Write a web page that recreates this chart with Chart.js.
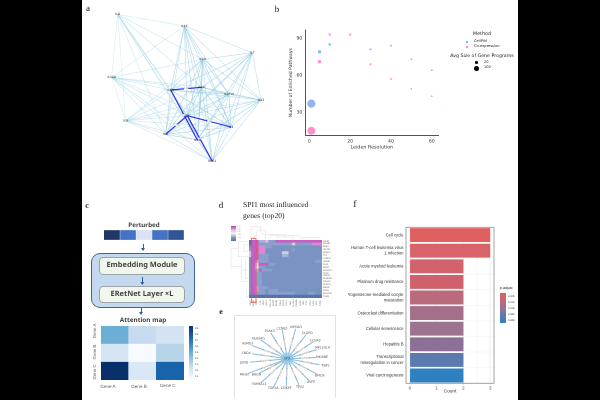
<!DOCTYPE html>
<html>
<head>
<meta charset="utf-8">
<script src="https://cdn.jsdelivr.net/npm/chart.js@4"></script>
<style>
  html, body { margin: 0; padding: 0; width: 600px; height: 400px; overflow: hidden; background: #000; }
  #page { position: absolute; left: 82px; top: 0; width: 436px; height: 400px; background: #fff; }
  #root { position: absolute; left: 0; top: 0; width: 600px; height: 400px; filter: blur(0.3px); text-rendering: geometricPrecision; }
  #root canvas { position: absolute; }
  .t { position: absolute; white-space: nowrap; line-height: 1; }
  .b { position: absolute; box-sizing: border-box; }
</style>
</head>
<body>
<div id="page"></div>
<div id="root"></div>
<script>
// ################ a: gene network (layout units) ###################
const netNames = ['IL8', 'IL15', 'IL7', 'IL19', 'IL12A', 'IL6R', 'IL1A', 'IL1F10', 'IL13', 'IL5', 'IL2', 'IL4', 'IL6', 'IL10', 'ENS1'];
const netX = [113, 313, 517, 368, 95, 272, 365, 447, 543, 137, 322, 453, 257, 352, 397];
const netY = [43, 78, 158, 178, 232, 270, 262, 283, 300, 362, 347, 381, 403, 420, 484];
const netStrength = [0.4, 0.7, 0.7, 0.9, 0.4, 0.9, 1, 0.9, 0.7, 0.4, 0.9, 0.9, 0.8, 1, 0.7];
const netMissing = ['0-2', '0-8', '0-7', '0-11', '2-4', '2-9', '1-9', '4-8'];
const netHeavy = [[5, 6], [5, 13], [10, 11], [10, 12], [10, 14]];

// ################ b: enriched pathways ###################
const cellPimRes = [1, 5, 10, 30, 40, 50, 60];
const cellPimPathways = [37, 79, 85, 81, 84, 73, 64];
const cellPimSize = [185, 30, 18, 12, 10, 8, 9];
const coexpRes = [1, 5, 10, 20, 30, 40, 50, 60];
const coexpPathways = [15, 71, 93, 93, 69, 57, 49, 43];
const coexpSize = [170, 32, 16, 14, 10, 10, 8, 8];
const resTicks = [0, 20, 40, 60];
const pathwayTicks = [30, 60, 90];

// ################ c: perturbed row and attention map ###################
const perturbedColors = ['#1F3864', '#4472C4', '#D9E3F3', '#4472C4', '#2F5597'];
const geneNames = ['Gene A', 'Gene B', 'Gene C'];
const attentionColors = [
  ['#6BAED6', '#C6DBEF', '#D3E3F3'],
  ['#D6E5F4', '#F7FBFF', '#B8D4E8'],
  ['#08306B', '#DAE8F5', '#1764AB']
];
const attentionTicks = ['0.9', '0.8', '0.7', '0.6', '0.5', '0.4', '0.3', '0.2', '0.1'];

// ################ d: SPI1 heatmap, one digit per cell ###################
const spiRows = [
  '0883362288888888888888',
  '0882222222222422222777',
  '1887722111111111111111',
  '2887711111111211111111',
  '4887711111441111111111',
  '4882221111331111111111',
  '1882221111111111111111',
  '1872221111111111111122',
  '1848882211111111111111',
  '1852211111111111111111',
  '1838222111111111111111',
  '1822111111111111111111',
  '1822111111111111111111',
  '1822111111111111111111',
  '1822111111111111111111',
  '1822111111111111111111',
  '1872221111111111111111',
  '1872212221111111111111',
  '1822212222222211112211',
  '0000000000000000000000'
];
const spiPalette = ['#5475AB', '#7A93C3', '#8AA0CC', '#A3B3D6', '#D0D0DC', '#E8E0E8', '#E0B5DA', '#D88BCF', '#C85FC0', '#B03CB0'];
const spiGenes = ['KIF2C', 'CCNB1', 'BUB1', 'CDC20', 'CENPA', 'TTK', 'AURKB', 'HMMR', 'PLK1', 'MKI67', 'NUSAP1', 'TPX2', 'TOP2A', 'FAM83D', 'CCNA2', 'CLSPN', 'BIRC5', 'CKS2', 'DLGAP5', 'TYMS'];
const spiColGenes = ['SPI1', 'GATA1', 'MYC', 'JUN', 'TP53', 'E2F1', 'FOXM1', 'STAT3', 'NFKB1', 'RELA', 'EGR1', 'KLF1', 'TAL1', 'RUNX1', 'CEBPA', 'IRF8', 'MAX', 'YY1', 'ETS1', 'ELK1', 'SP1', 'CTCF'];
const dendroTop = [
  [[63, 42], [63, 5], [92, 5], [92, 20]],
  [[82, 20], [82, 15], [107, 15], [107, 42]],
  [[72, 42], [72, 32], [80, 32], [80, 20]],
  [[98, 25], [98, 28], [165, 28], [165, 38]],
  [[120, 42], [120, 32], [210, 32], [210, 38]],
  [[140, 42], [140, 36], [190, 36], [190, 42]],
  [[215, 42], [215, 38], [270, 38], [270, 42]]
];
const dendroLeft = [
  [[55, 50], [25, 50], [25, 95], [55, 95]],
  [[25, 70], [3, 70], [3, 125], [34, 125]],
  [[34, 100], [34, 170], [55, 170]],
  [[34, 135], [46, 135], [55, 135]],
  [[55, 60], [42, 60], [42, 80], [55, 80]],
  [[46, 110], [46, 160], [55, 160]],
  [[50, 190], [50, 215], [55, 215]]
];
const spiHighlight = [[64, 40], [78, 40], [78, 232], [64, 232], [64, 40]];

// ################ e: SPI1 regulon (layout units) ###################
const regulonCenter = [190, 148];
const regulonNames = ['PLAK3', 'CCNB2', 'KIPNA3', 'CLGPD', 'CCNA2', 'MPL2OLA', 'MKI0BE', 'TBP2', 'BMCN', 'GVFE', 'TPX2', 'CDKPF', 'TOP2A', 'FAM61L1', 'BRDN', 'MKI67', 'JUND', 'CNDX', 'ASMD3', 'NUSAP1'];
const regulonX = [130, 172, 220, 258, 285, 310, 308, 320, 300, 270, 233, 186, 142, 95, 85, 45, 43, 50, 55, 92];
const regulonY = [52, 42, 37, 58, 84, 110, 143, 173, 207, 231, 248, 251, 251, 237, 204, 204, 162, 128, 96, 77];

// ################ f: pathway counts ###################
const pathwayNames = [
  'Cell cycle',
  ['Human T-cell leukemia virus', '1 infection'],
  'Acute myeloid leukemia',
  'Platinum drug resistance',
  ['Progesterone-mediated oocyte', 'maturation'],
  'Osteoclast differentiation',
  'Cellular senescence',
  'Hepatitis B',
  ['Transcriptional', 'misregulation in cancer'],
  'Viral carcinogenesis'
];
const pathwayCounts = [3, 3, 2, 2, 2, 2, 2, 2, 2, 2];
const pathwayColors = ['#E06060', '#D8636A', '#D2626B', '#CE616C', '#BB6A7C', '#A56F8A', '#9C7391', '#8D7095', '#5B7BB0', '#2F80C0'];
const countTicks = [0, 0.5, 1, 1.5, 2, 2.5, 3];
const padjTicks = ['0.005', '0.010', '0.015', '0.020', '0.025'];

const root = document.getElementById('root');
const SERIF = '"Liberation Serif", serif';
const SANS = '"Liberation Sans", sans-serif';
const DEJAVU = '"DejaVu Sans", sans-serif';
const NOTO = '"Noto Sans", sans-serif';

Chart.defaults.animation = false;
Chart.defaults.responsive = false;
Chart.defaults.devicePixelRatio = 2;
Chart.defaults.plugins.legend.display = false;
Chart.defaults.plugins.tooltip.enabled = false;

function label(text, x, y, o) {
  o = o || {};
  const el = document.createElement('div');
  el.className = 't';
  el.textContent = text;
  el.style.left = x + 'px';
  el.style.top = y + 'px';
  el.style.fontFamily = o.font || SANS;
  el.style.fontSize = (o.size || 5) + 'px';
  el.style.color = o.color || '#222';
  if (o.weight) el.style.fontWeight = o.weight;
  const ax = o.anchor === 'left' ? '0' : o.anchor === 'right' ? '-100%' : '-50%';
  el.style.transform = 'translate(' + ax + ',-50%)' + (o.rotate ? ' rotate(' + o.rotate + 'deg)' : '');
  root.appendChild(el);
}

function box(x, y, w, h, css) {
  const el = document.createElement('div');
  el.className = 'b';
  el.style.left = x + 'px';
  el.style.top = y + 'px';
  el.style.width = w + 'px';
  el.style.height = h + 'px';
  Object.assign(el.style, css);
  root.appendChild(el);
}

function arrow(x, y1, y2) {
  box(x - 0.4, y1, 0.8, y2 - y1 - 2, { background: '#2E5C9E' });
  box(x - 2, y2 - 3, 4, 3, { background: '#2E5C9E', clipPath: 'polygon(0 0, 100% 0, 50% 100%)' });
}

function canvas(x, y, w, h) {
  const c = document.createElement('canvas');
  c.style.left = x + 'px';
  c.style.top = y + 'px';
  c.width = w;
  c.height = h;
  c.style.width = w + 'px';
  c.style.height = h + 'px';
  root.appendChild(c);
  return c;
}

const hiddenScales = (xMax, yMax) => ({
  x: { type: 'linear', display: false, min: 0, max: xMax },
  y: { type: 'linear', display: false, min: 0, max: yMax, reverse: true }
});

function pathLine(points, color, width, order) {
  return {
    type: 'line',
    data: points.map(p => ({ x: p[0], y: p[1] })),
    borderColor: color,
    borderWidth: width,
    pointRadius: 0,
    tension: 0,
    order: order || 0
  };
}

// stacked bars, one dataset per heatmap row, top row stacked last
function heatmap(x, y, w, h, rows, colorOf) {
  const datasets = rows.map((row, r) => ({
    data: Array.from(row).map(() => 1),
    backgroundColor: Array.from(row).map((v, c) => colorOf(r, c, v)),
    borderWidth: 0,
    categoryPercentage: 1,
    barPercentage: 1
  })).reverse();
  return new Chart(canvas(x, y, w, h), {
    type: 'bar',
    data: { labels: Array.from(rows[0]).map((v, i) => i), datasets: datasets },
    options: {
      scales: {
        x: { stacked: true, display: false },
        y: { stacked: true, display: false, min: 0, max: rows.length }
      }
    }
  });
}

// ################ panel letters ###################
label('a', 88, 8, { font: SERIF, size: 9, color: '#111' });
label('b', 277, 9, { font: SERIF, size: 9, color: '#111' });
label('c', 87, 206, { font: SERIF, size: 8, color: '#111', weight: 'bold' });
label('d', 221, 205, { font: SERIF, size: 9, color: '#111' });
label('e', 221, 312, { font: SERIF, size: 8, color: '#111', weight: 'bold' });
label('f', 355, 205, { font: SERIF, size: 10, color: '#111' });

// ################ a ###################
const netSets = [];
netNames.forEach((n, i) => {
  netNames.forEach((m, j) => {
    if (j <= i || netMissing.includes(i + '-' + j)) return;
    const alpha = 0.2 + 0.6 * netStrength[i] * netStrength[j];
    netSets.push(pathLine([[netX[i], netY[i]], [netX[j], netY[j]]], 'rgba(150,205,225,' + alpha.toFixed(2) + ')', 0.75, 2));
  });
});
netHeavy.forEach(e => {
  netSets.push(pathLine([[netX[e[0]], netY[e[0]]], [netX[e[1]], netY[e[1]]]], '#2E2EF2', 1.15, 1));
});
new Chart(canvas(80, 0, 190, 190), {
  type: 'scatter',
  data: { datasets: netSets },
  options: { scales: hiddenScales(570, 570) },
  plugins: [{
    id: 'netLabels',
    afterDatasetsDraw(chart) {
      const { ctx, scales } = chart;
      ctx.save();
      ctx.textAlign = 'center';
      ctx.textBaseline = 'middle';
      netHeavy.forEach(e => {
        const mx = scales.x.getPixelForValue((netX[e[0]] + netX[e[1]]) / 2);
        const my = scales.y.getPixelForValue((netY[e[0]] + netY[e[1]]) / 2);
        ctx.fillStyle = '#fff';
        ctx.fillRect(mx - 2.2, my - 0.9, 4.4, 1.8);
        ctx.fillStyle = '#777';
        ctx.font = '2.2px ' + DEJAVU;
        ctx.fillText('1.00', mx, my);
      });
      ctx.font = '3px ' + DEJAVU;
      netNames.forEach((n, i) => {
        const px = scales.x.getPixelForValue(netX[i]);
        const py = scales.y.getPixelForValue(netY[i]);
        ctx.fillStyle = '#222';
        ctx.fillText(n, px, py);
      });
      ctx.restore();
    }
  }]
});

// ################ b ###################
const bubbleR = s => 0.3 * Math.sqrt(s);
new Chart(canvas(270, 20, 175, 145), {
  type: 'bubble',
  data: {
    datasets: [
      {
        label: 'CellPIM',
        data: cellPimRes.map((x, i) => ({ x: x, y: cellPimPathways[i], r: bubbleR(cellPimSize[i]) })),
        backgroundColor: 'rgba(100,149,237,0.7)',
        borderWidth: 0
      },
      {
        label: 'Co-expression',
        data: coexpRes.map((x, i) => ({ x: x, y: coexpPathways[i], r: bubbleR(coexpSize[i]) })),
        backgroundColor: 'rgba(255,105,180,0.75)',
        borderWidth: 0
      }
    ]
  },
  options: {
    layout: { padding: { left: 18, right: 6.7, top: 10, bottom: 15 } },
    scales: {
      x: {
        type: 'linear', min: -1.96, max: 63.2,
        grid: { display: false, tickLength: 2 },
        border: { color: '#555', width: 1 },
        afterBuildTicks: s => { s.ticks = resTicks.map(v => ({ value: v })); },
        afterFit: s => { s.height = 14.7; },
        ticks: { font: { size: 4.6, family: DEJAVU }, color: '#333', padding: 1, maxRotation: 0 },
        title: { display: true, text: 'Leiden Resolution', font: { size: 4.8, family: DEJAVU }, color: '#333', padding: 0 }
      },
      y: {
        type: 'linear', min: 11.3, max: 96.7,
        grid: { display: false, tickLength: 2 },
        border: { color: '#555', width: 1 },
        afterBuildTicks: s => { s.ticks = pathwayTicks.map(v => ({ value: v })); },
        afterFit: s => { s.width = 17.3; },
        ticks: { font: { size: 4.6, family: DEJAVU }, color: '#333', padding: 1 },
        title: { display: true, text: 'Number of Enriched Pathways', font: { size: 4.6, family: DEJAVU }, color: '#333', padding: 0 }
      }
    }
  }
});
label('Method', 482, 35, { font: DEJAVU, size: 4.8 });
box(466, 41, 2, 2, { background: 'rgba(100,149,237,0.8)' });
label('CellPIM', 474, 42, { font: DEJAVU, size: 3.6, anchor: 'left' });
box(466, 46, 2, 2, { background: 'rgba(255,105,180,0.8)' });
label('Co-expression', 474, 47, { font: DEJAVU, size: 3.6, anchor: 'left' });
label('Avg Size of Gene Programs', 482, 56.7, { font: DEJAVU, size: 4.7 });
box(475.4, 61.4, 2.6, 2.6, { background: '#000', borderRadius: '50%' });
label('20', 484, 62.7, { font: DEJAVU, size: 3.6, anchor: 'left' });
box(474, 65.6, 5.4, 5.4, { background: '#000', borderRadius: '50%' });
label('100', 484, 68.3, { font: DEJAVU, size: 3.6, anchor: 'left' });

// ################ c ###################
label('Perturbed', 144, 224.5, { font: NOTO, size: 6.2, weight: 'bold', color: '#444' });
new Chart(canvas(104, 230, 80, 9.5), {
  type: 'bar',
  data: {
    labels: ['Perturbed'],
    datasets: perturbedColors.map(c => ({
      data: [1], backgroundColor: c, borderColor: '#fff', borderWidth: 0.5,
      categoryPercentage: 1, barPercentage: 1
    }))
  },
  options: {
    indexAxis: 'y',
    scales: {
      x: { stacked: true, display: false, min: 0, max: perturbedColors.length },
      y: { stacked: true, display: false }
    }
  }
});
arrow(143, 244, 251);
box(91.3, 252.7, 103.7, 55, { background: '#C5D9EE', border: '0.8px solid #3F6493', borderRadius: '9px' });
box(99, 257, 86, 18.3, { background: '#F1F7EC', border: '0.8px solid #9AA3A8', borderRadius: '4px' });
label('Embedding Module', 142, 266, { font: NOTO, size: 7.4, weight: 'bold', color: '#444' });
arrow(142.3, 276.7, 285);
box(99, 286, 86, 17.3, { background: '#F1F7EC', border: '0.8px solid #9AA3A8', borderRadius: '4px' });
label('ERetNet Layer \u00d7L', 142, 295, { font: NOTO, size: 7.4, weight: 'bold', color: '#444' });
arrow(141, 307.7, 315);
label('Attention map', 143, 320, { font: NOTO, size: 6.4, weight: 'bold', color: '#444' });

heatmap(100.7, 326, 83.3, 53.7, attentionColors, (r, c) => attentionColors[r][c]);
box(189, 326, 4, 53, { background: 'linear-gradient(#08306B, #2171B5, #6BAED6, #C6DBEF, #F7FBFF)' });
attentionTicks.forEach((t, i) => label(t, 195, 329 + i * 6, { size: 2.4, anchor: 'left', color: '#444' }));
label(geneNames[0], 108, 386.7, { size: 4.6, color: '#666' });
label(geneNames[1], 139, 386.7, { size: 4.6, color: '#666' });
label(geneNames[2], 167.7, 386, { size: 4.6, color: '#666' });
label(geneNames[0], 95, 331, { size: 4.4, color: '#666', rotate: -90 });
label(geneNames[1], 95, 352, { size: 4.4, color: '#666', rotate: -90 });
label(geneNames[2], 95, 372, { size: 4.4, color: '#666', rotate: -90 });

// ################ d ###################
label('SPI1 most influenced', 243, 205, { font: SERIF, size: 7.6, anchor: 'left', color: '#222' });
label('genes (top20)', 243, 216, { font: SERIF, size: 7.6, anchor: 'left', color: '#222' });
box(231, 226, 5, 14.7, { background: 'linear-gradient(#B03CB0, #E0B5DA, #F2F2F2, #8AA0CC, #4A6FA5)' });
['1.00', '0.50', '0.00', '-0.50', '-1.00'].forEach((t, i) => label(t, 237, 228 + i * 2.7, { size: 1.8, anchor: 'left', color: '#888' }));
heatmap(249, 240, 73.3, 58.3, spiRows, (r, c, v) => spiPalette[+v]);
spiGenes.forEach((g, i) => label(g, 323, 241.5 + i * 2.915, { size: 2.2, anchor: 'left', color: '#666' }));
spiColGenes.forEach((g, i) => label(g, 250.7 + i * 3.33, 302.5, { size: 2.2, color: '#666', rotate: -90 }));
new Chart(canvas(230, 225, 105, 85), {
  type: 'scatter',
  data: {
    datasets: dendroTop.concat(dendroLeft).map(p => pathLine(p, '#E2E2E2', 0.6, 2))
      .concat([pathLine(spiHighlight, '#E8504C', 0.8, 1)])
  },
  options: { scales: hiddenScales(315, 255) }
});

// ################ e ###################
box(234, 315, 102, 83, { border: '0.8px solid #E2E2E2', borderBottom: 'none' });
new Chart(canvas(225, 310, 110, 90), {
  type: 'scatter',
  data: {
    datasets: regulonNames.map((n, i) => pathLine([regulonCenter, [regulonX[i], regulonY[i]]], '#85BCDB', 1, 1)).concat([{
      type: 'bubble',
      data: [{ x: regulonCenter[0], y: regulonCenter[1], r: 6.5 }],
      backgroundColor: 'rgba(140,195,230,0.55)',
      borderWidth: 0,
      order: 0
    }])
  },
  options: { scales: hiddenScales(330, 270) },
  plugins: [{
    id: 'regulonLabels',
    afterDatasetsDraw(chart) {
      const { ctx, scales } = chart;
      ctx.save();
      ctx.textAlign = 'center';
      ctx.textBaseline = 'middle';
      const cx = scales.x.getPixelForValue(regulonCenter[0]);
      const cy = scales.y.getPixelForValue(regulonCenter[1]);
      regulonNames.forEach((n, i) => {
        const px = scales.x.getPixelForValue(regulonX[i]);
        const py = scales.y.getPixelForValue(regulonY[i]);
        const mx = (cx + px) / 2, my = (cy + py) / 2;
        ctx.save();
        ctx.translate(mx, my);
        let a = Math.atan2(py - cy, px - cx);
        if (Math.abs(a) > Math.PI / 2) a += Math.PI;
        ctx.rotate(a);
        ctx.fillStyle = '#fff';
        ctx.fillRect(-4, -0.9, 8, 1.8);
        ctx.fillStyle = '#888';
        ctx.font = '2.4px ' + DEJAVU;
        ctx.fillText('regulates', 0, 0);
        ctx.restore();
        ctx.fillStyle = '#fff';
        ctx.fillRect(px - 6, py - 1.6, 12, 3.2);
        ctx.fillStyle = '#555';
        ctx.font = '3.2px ' + DEJAVU;
        ctx.fillText(n, px, py);
      });
      ctx.fillStyle = '#555';
      ctx.font = '3.2px ' + DEJAVU;
      ctx.fillText('SPI1', cx, cy);
      ctx.restore();
    }
  }]
});

// ################ f ###################
new Chart(canvas(335, 220, 165, 177), {
  type: 'bar',
  data: {
    labels: pathwayNames,
    datasets: [{
      data: pathwayCounts,
      backgroundColor: pathwayColors,
      categoryPercentage: 1,
      barPercentage: 0.89
    }]
  },
  options: {
    indexAxis: 'y',
    layout: { padding: { left: 13, right: 6, top: 7.3, bottom: 3 } },
    scales: {
      x: {
        type: 'linear', min: -0.14, max: 3.14,
        grid: { color: c => (Number.isInteger(c.tick.value) ? '#E6E6E6' : '#F3F3F3'), lineWidth: 0.6, tickLength: 2 },
        border: { display: false },
        afterBuildTicks: s => { s.ticks = countTicks.map(v => ({ value: v })); },
        afterFit: s => { s.height = 10.7; },
        ticks: {
          font: { size: 4.2, family: SANS }, color: '#444', padding: 0.5, maxRotation: 0, autoSkip: false,
          callback: v => (Number.isInteger(v) ? v : '')
        },
        title: { display: true, text: 'Count', font: { size: 4.8, family: SANS }, color: '#333', padding: 0 }
      },
      y: {
        grid: { color: '#F1F1F1', lineWidth: 0.6, tickLength: 2 },
        border: { display: false },
        afterFit: s => { s.width = 58; },
        ticks: { font: { size: 4.2, family: SANS, lineHeight: 1.35 }, color: '#333', padding: 0.5, autoSkip: false }
      }
    }
  },
  plugins: [{
    id: 'panelBorder',
    afterDraw(chart) {
      const a = chart.chartArea, ctx = chart.ctx;
      ctx.save();
      ctx.strokeStyle = '#9A9A9A';
      ctx.lineWidth = 0.9;
      ctx.strokeRect(a.left, a.top, a.right - a.left, a.bottom - a.top);
      ctx.restore();
    }
  }]
});
label('p.adjust', 500, 289, { size: 3.6, anchor: 'left' });
box(500, 292.7, 6, 30, { background: 'linear-gradient(#E06060, #C4667A, #9C7391, #5B7BB0, #2F80C0)' });
padjTicks.forEach((t, i) => label(t, 508, 297 + i * 6.1, { size: 2.6, anchor: 'left', color: '#333' }));
</script>
</body>
</html>
